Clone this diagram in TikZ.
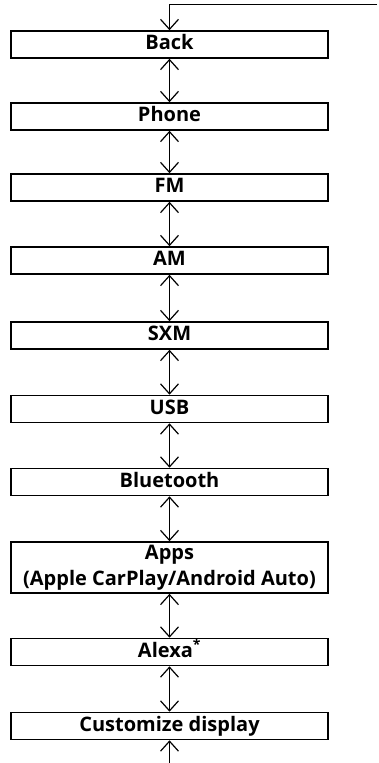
\documentclass[tikz,border=0pt]{standalone}
\usepackage{fontspec}
\setmainfont{Open Sans}
\usetikzlibrary{arrows.meta}
\begin{document}
\begin{tikzpicture}[x=1pt,y=-1pt,
  menubox/.style={draw=black,line width=1.6pt,minimum width=317pt,minimum height=27pt,inner sep=0pt,
    font=\bfseries\fontsize{20}{26}\selectfont,text height=14.5pt,text depth=4.5pt,align=center},
  link/.style={line width=1.2pt,{Straight Barb[length=10pt,width=18pt]}-{Straight Barb[length=10pt,width=18pt]}},
  onelink/.style={line width=1.2pt,-{Straight Barb[length=10pt,width=18pt]}}]
\useasboundingbox (0,0) rectangle (379,763);
\node[menubox] (back) at (169.5,44.5) {Back};
\node[menubox] (phone) at (169.5,116.5) {Phone};
\node[menubox] (fm) at (169.5,187.5) {FM};
\node[menubox] (am) at (169.5,260.5) {AM};
\node[menubox] (sxm) at (169.5,335.5) {SXM};
\node[menubox] (usb) at (169.5,409) {USB};
\node[menubox] (bt) at (169.5,482) {Bluetooth};
\node[menubox,minimum height=51pt,text height=,text depth=] (apps) at (169.5,567.5) {Apps\\(Apple CarPlay/Android Auto)};
\node[menubox] (alexa) at (169.5,652) {Alexa\textsuperscript{*}};
\node[menubox] (cust) at (169.5,726) {Customize display};
\coordinate (topr) at (377,4.5);
\coordinate (topl) at (169.5,4.5);
\coordinate (bot) at (169.5,763);
\draw[onelink] (topr) -- (topl) -- (back.north);
\draw[link] (back) -- (phone);
\draw[link] (phone) -- (fm);
\draw[link] (fm) -- (am);
\draw[link] (am) -- (sxm);
\draw[link] (sxm) -- (usb);
\draw[link] (usb) -- (bt);
\draw[link] (bt) -- (apps);
\draw[link] (apps) -- (alexa);
\draw[link] (alexa) -- (cust);
\draw[onelink] (bot) -- (cust.south);
\end{tikzpicture}
\end{document}
